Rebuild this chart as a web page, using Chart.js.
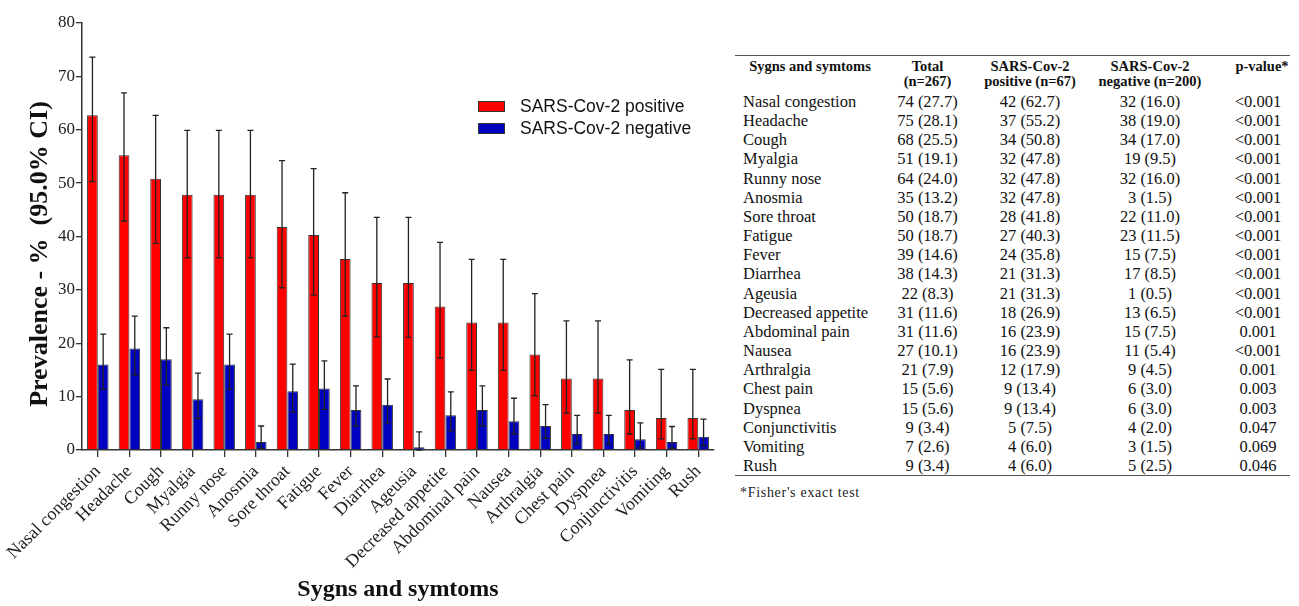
<!DOCTYPE html>
<html>
<head>
<meta charset="utf-8">
<script src="https://cdn.jsdelivr.net/npm/chart.js@4/dist/chart.umd.min.js"></script>
<style>
  body { margin: 0; background: #fff; }
  #wrap { position: absolute; left: 0; top: 0; width: 725px; height: 606px; }
  #tbl {
    position: absolute; left: 735px; top: 55px; width: 555px;
    border-collapse: collapse; font-family: "Liberation Serif", serif; color: #111;
    border-top: 1.5px solid #555; border-bottom: 1.5px solid #555;
  }
  #tbl th { font-size: 14.5px; font-weight: bold; line-height: 15px; padding: 3px 0; text-align: center; vertical-align: top; }
  #tbl td { font-size: 16.5px; line-height: 19.15px; padding: 0; text-align: center; white-space: nowrap; }
  #tbl td.name { text-align: left; padding-left: 8px; }
  #tbl td.p { padding-left: 16px; }
  #tbl th.p { padding-left: 24px; }
  #note { position: absolute; left: 740px; top: 485px; font-family: "Liberation Serif", serif; font-size: 14px; letter-spacing: 0.7px; color: #222; }
</style>
</head>
<body>
<div id="wrap"><canvas id="canvas"></canvas></div>
<table id="tbl">
  <colgroup><col style="width:150px"><col style="width:85px"><col style="width:120px"><col style="width:120px"><col style="width:80px"></colgroup>
  <thead>
    <tr>
      <th>Sygns and symtoms</th>
      <th>Total<br>(n=267)</th>
      <th>SARS-Cov-2<br>positive (n=67)</th>
      <th>SARS-Cov-2<br>negative (n=200)</th>
      <th class="p">p-value*</th>
    </tr>
  </thead>
  <tbody id="rows"></tbody>
</table>
<div id="note">*Fisher's exact test</div>
<script>
var symptoms = ["Nasal congestion", "Headache", "Cough", "Myalgia", "Runny nose", "Anosmia", "Sore throat", "Fatigue", "Fever", "Diarrhea", "Ageusia", "Decreased appetite", "Abdominal pain", "Nausea", "Arthralgia", "Chest pain", "Dyspnea", "Conjunctivitis", "Vomiting", "Rush"];

// prevalence (%) per group
var positive = [62.7, 55.2, 50.8, 47.8, 47.8, 47.8, 41.8, 40.3, 35.8, 31.3, 31.3, 26.9, 23.9, 23.9, 17.9, 13.4, 13.4, 7.5, 6.0, 6.0];
var negative = [16.0, 19.0, 17.0, 9.5, 16.0, 1.5, 11.0, 11.5, 7.5, 8.5, 0.5, 6.5, 7.5, 5.4, 4.5, 3.0, 3.0, 2.0, 1.5, 2.5];

// 95% CI
var posLow  = [50.3, 42.9, 38.7, 36.0, 36.0, 36.0, 30.4, 29.0, 25.1, 21.2, 21.1, 17.2, 14.9, 14.9, 10.2, 6.9, 6.9, 3.0, 2.1, 2.1];
var posHigh = [73.6, 66.9, 62.7, 59.9, 59.9, 59.9, 54.2, 52.7, 48.2, 43.6, 43.6, 38.9, 35.7, 35.7, 29.3, 24.2, 24.2, 16.9, 15.1, 15.1];
var negLow  = [11.4, 14.1, 12.2, 5.9, 11.4, 0.3, 7.1, 7.6, 4.5, 5.1, 0.0, 3.6, 4.5, 3.0, 2.2, 1.1, 1.1, 0.4, 0.3, 0.8];
var negHigh = [21.7, 25.1, 22.9, 14.4, 21.7, 4.5, 16.1, 16.7, 12.0, 13.3, 3.4, 10.9, 12.0, 9.7, 8.5, 6.5, 6.5, 5.1, 4.4, 5.8];

// table values
var totalN   = [74, 75, 68, 51, 64, 35, 50, 50, 39, 38, 22, 31, 31, 27, 21, 15, 15, 9, 7, 9];
var totalPct = [27.7, 28.1, 25.5, 19.1, 24.0, 13.2, 18.7, 18.7, 14.6, 14.3, 8.3, 11.6, 11.6, 10.1, 7.9, 5.6, 5.6, 3.4, 2.6, 3.4];
var posN     = [42, 37, 34, 32, 32, 32, 28, 27, 24, 21, 21, 18, 16, 16, 12, 9, 9, 5, 4, 4];
var negN     = [32, 38, 34, 19, 32, 3, 22, 23, 15, 17, 1, 13, 15, 11, 9, 6, 6, 4, 3, 5];
var pValues  = ["<0.001", "<0.001", "<0.001", "<0.001", "<0.001", "<0.001", "<0.001", "<0.001", "<0.001", "<0.001", "<0.001", "<0.001", "0.001", "<0.001", "0.001", "0.003", "0.003", "0.047", "0.069", "0.046"];

var yTicks = [0, 10, 20, 30, 40, 50, 60, 70, 80];

// fill table
var html = "";
for (var i = 0; i < symptoms.length; i++) {
    html += "<tr><td class='name'>" + symptoms[i] + "</td>" +
        "<td>" + totalN[i] + " (" + totalPct[i].toFixed(1) + ")</td>" +
        "<td>" + posN[i] + " (" + positive[i].toFixed(1) + ")</td>" +
        "<td>" + negN[i] + " (" + negative[i].toFixed(1) + ")</td>" +
        "<td class='p'>" + pValues[i].replace("<", "&lt;") + "</td></tr>";
}
document.getElementById("rows").innerHTML = html;

var serif = "'Liberation Serif', 'Times New Roman', serif";

// whiskers with caps on both ends
var errorBars = {
    id: 'errorBars',
    afterDatasetsDraw: function (chart) {
        var ctx = chart.ctx, y = chart.scales.y;
        var ranges = [[posLow, posHigh], [negLow, negHigh]];
        ctx.save();
        ctx.strokeStyle = '#222';
        ctx.lineWidth = 1.3;
        chart.data.datasets.forEach(function (ds, d) {
            var meta = chart.getDatasetMeta(d);
            meta.data.forEach(function (bar, j) {
                var lo = y.getPixelForValue(ranges[d][0][j]);
                var hi = y.getPixelForValue(ranges[d][1][j]);
                ctx.beginPath();
                ctx.moveTo(bar.x, lo); ctx.lineTo(bar.x, hi);
                ctx.moveTo(bar.x - 3, hi); ctx.lineTo(bar.x + 3, hi);
                ctx.moveTo(bar.x - 3, lo); ctx.lineTo(bar.x + 3, lo);
                ctx.stroke();
            });
        });
        ctx.restore();
    }
};

// legend inside plot + rotated y title
var extras = {
    id: 'extras',
    afterDraw: function (chart) {
        var ctx = chart.ctx;
        ctx.save();
        chart.data.datasets.forEach(function (ds, d) {
            var top = 101 + d * 22;
            ctx.fillStyle = ds.backgroundColor;
            ctx.fillRect(478, top, 27, 11);
            ctx.strokeStyle = '#333';
            ctx.lineWidth = 1;
            ctx.strokeRect(478.5, top + 0.5, 26, 10);
            ctx.fillStyle = '#111';
            ctx.font = "17.5px 'Liberation Sans', Arial, sans-serif";
            ctx.textBaseline = 'middle';
            ctx.fillText(ds.label, 520, top + 6);
        });
        ctx.translate(40, 254);
        ctx.rotate(-Math.PI / 2);
        ctx.font = "bold 26px " + serif;
        ctx.textAlign = 'center';
        ctx.textBaseline = 'middle';
        ctx.fillStyle = '#111';
        ctx.fillText("Prevalence - %  (95.0% CI)", 0, 0);
        ctx.restore();
    }
};

var config = {
    type: 'bar',
    data: {
        labels: symptoms,
        datasets: [
            { label: 'SARS-Cov-2 positive', data: positive, backgroundColor: '#ff0000', borderColor: '#333', borderWidth: 1 },
            { label: 'SARS-Cov-2 negative', data: negative, backgroundColor: '#0000c0', borderColor: '#333', borderWidth: 1 }
        ]
    },
    options: {
        responsive: true,
        maintainAspectRatio: false,
        animation: false,
        categoryPercentage: 0.68,
        barPercentage: 1.0,
        layout: { padding: { top: 23, right: 11, left: 0, bottom: 0 } },
        plugins: { legend: { display: false }, tooltip: { enabled: false } },
        scales: {
            x: {
                grid: { display: true, drawOnChartArea: false, offset: false, tickLength: 7, color: '#333', lineWidth: 1.3 },
                border: { display: true, color: '#333', width: 1.5 },
                ticks: { autoSkip: false, maxRotation: 45, minRotation: 45, padding: 4, color: '#222', font: { family: serif, size: 18 } },
                title: { display: true, text: 'Sygns and symtoms', color: '#111', font: { family: serif, size: 24, weight: 'bold' }, padding: { top: 0, bottom: 2 } },
                afterFit: function (scale) { scale.height = 156; }
            },
            y: {
                min: 0, max: 80,
                afterBuildTicks: function (scale) { scale.ticks = yTicks.map(function (v) { return { value: v }; }); },
                grid: { display: true, drawOnChartArea: false, tickLength: 6, color: '#333', lineWidth: 1.3 },
                border: { display: true, color: '#333', width: 1.5 },
                ticks: { padding: 1, color: '#222', font: { family: serif, size: 17 } },
                afterFit: function (scale) { scale.width = 82; }
            }
        }
    },
    plugins: [errorBars, extras]
};

function start() {
    var ctx = document.getElementById('canvas').getContext('2d');
    new Chart(ctx, config);
}
start();
</script>
</body>
</html>
